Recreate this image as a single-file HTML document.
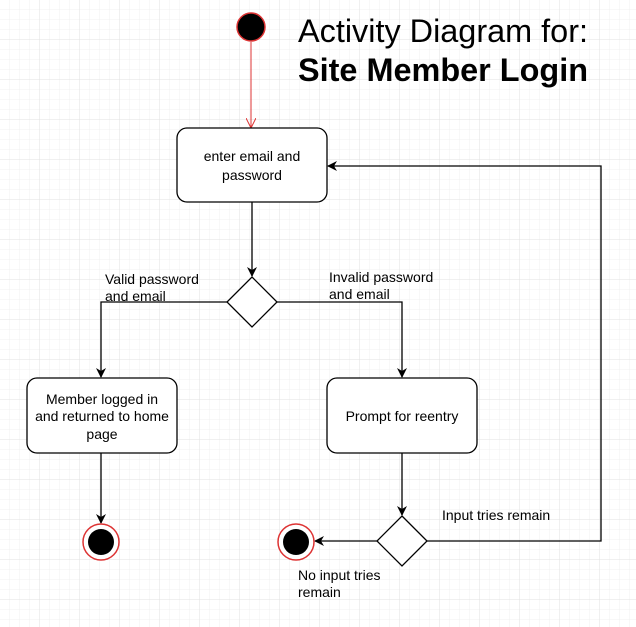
<html><body style="margin:0;width:636px;height:627px;background:#fff;overflow:hidden">
<svg width="636" height="627" xmlns="http://www.w3.org/2000/svg" font-family="Liberation Sans, sans-serif">
<defs>
<pattern id="g" width="10" height="10" patternUnits="userSpaceOnUse"><path d="M10 0V10H0" fill="none" stroke="#f0f0f0" stroke-width="1"/></pattern>
<pattern id="G" width="40" height="40" patternUnits="userSpaceOnUse"><rect width="40" height="40" fill="url(#g)"/><path d="M40 0V40H0" fill="none" stroke="#e2e2e2" stroke-width="1"/></pattern>
<marker id="a" markerWidth="10" markerHeight="10" refX="9" refY="5" orient="auto" markerUnits="userSpaceOnUse"><path d="M0 0L10 5L0 10L3 5Z" fill="#000"/></marker>
<marker id="r" markerWidth="10" markerHeight="10" refX="9" refY="5" orient="auto" markerUnits="userSpaceOnUse"><path d="M0 0L10 5L0 10" fill="none" stroke="#d33"/></marker>
</defs>
<rect width="636" height="627" fill="url(#G)"/>
<circle cx="251" cy="27" r="14" fill="#000" stroke="#d33" stroke-width="1.5"/>
<line x1="251" y1="42" x2="251" y2="127" stroke="#d33" marker-end="url(#r)"/>
<text x="298" y="42" font-size="32" textLength="290" lengthAdjust="spacingAndGlyphs">Activity Diagram for:</text>
<text x="298" y="81" font-size="32" font-weight="bold" textLength="290" lengthAdjust="spacingAndGlyphs">Site Member Login</text>
<g stroke="#000" stroke-width="1.3" fill="#fff">
<rect x="177" y="128" width="150" height="74" rx="10"/>
<rect x="27" y="378" width="150" height="75" rx="10"/>
<rect x="327" y="378" width="150" height="75" rx="10"/>
<path d="M252 277L277 302L252 327L227 302Z"/>
<path d="M402 516L427 541L402 566L377 541Z"/>
</g>
<g stroke="#000" stroke-width="1.3" fill="none">
<line x1="252" y1="202" x2="252" y2="276" marker-end="url(#a)"/>
<polyline points="227,302 101,302 101,377" marker-end="url(#a)"/>
<polyline points="277,302 402,302 402,377" marker-end="url(#a)"/>
<line x1="101" y1="453" x2="101" y2="523" marker-end="url(#a)"/>
<line x1="402" y1="453" x2="402" y2="515" marker-end="url(#a)"/>
<line x1="377" y1="541" x2="315" y2="541" marker-end="url(#a)"/>
<polyline points="427,541 601,541 601,166 328,166" marker-end="url(#a)"/>
</g>
<circle cx="101" cy="542" r="18" fill="#fff" stroke="#d33" stroke-width="1.5"/><circle cx="101" cy="542" r="13" fill="#000"/>
<circle cx="296" cy="542" r="18" fill="#fff" stroke="#d33" stroke-width="1.5"/><circle cx="296" cy="542" r="13" fill="#000"/>
<g font-size="14" fill="#000">
<text x="252" y="161" text-anchor="middle">enter email and</text>
<text x="252" y="180" text-anchor="middle">password</text>
<text x="102" y="404" text-anchor="middle">Member logged in</text>
<text x="102" y="421" text-anchor="middle">and returned to home</text>
<text x="102" y="439" text-anchor="middle">page</text>
<text x="402" y="421" text-anchor="middle">Prompt for reentry</text>
<text x="105" y="284">Valid password</text>
<text x="105" y="301">and email</text>
<text x="329" y="282">Invalid password</text>
<text x="329" y="299">and email</text>
<text x="442" y="520">Input tries remain</text>
<text x="298" y="580">No input tries</text>
<text x="298" y="597">remain</text>
</g>
</svg>
</body></html>
